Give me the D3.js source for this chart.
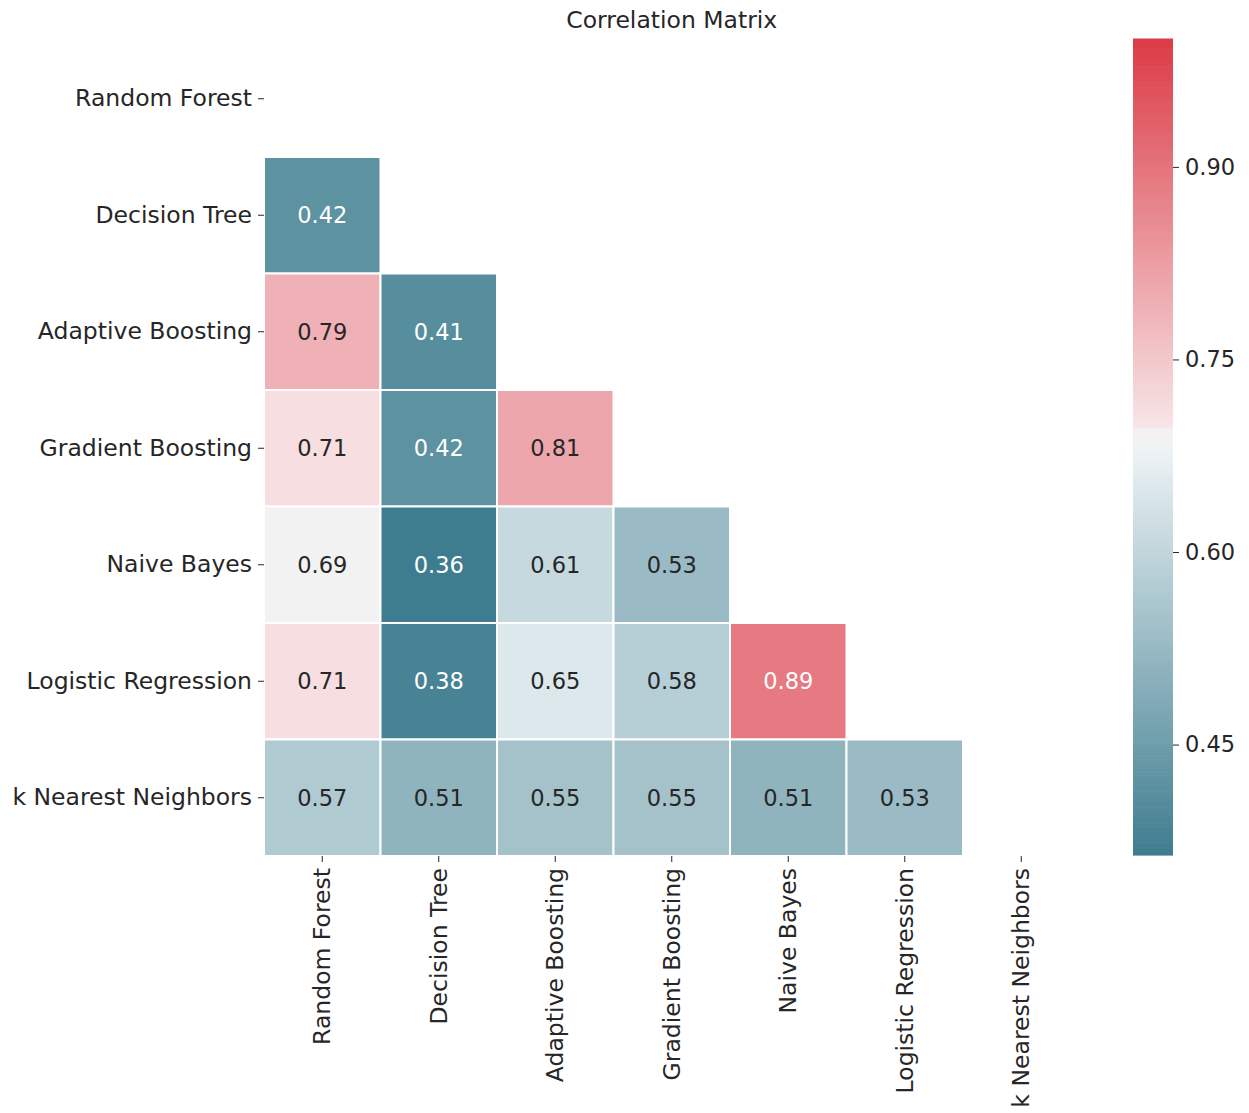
<!DOCTYPE html>
<html>
<head>
<meta charset="utf-8">
<script src="https://cdn.jsdelivr.net/npm/d3@7"></script>
<style>
  body { margin: 0; background: #fff; }
  svg text { font-family: "DejaVu Sans", sans-serif; fill: #262626; }
  .tick line { stroke: #262626; }
</style>
</head>
<body>
<div id="chart"></div>
<script>
// model names, same order on both axes
const models = ['Random Forest', 'Decision Tree', 'Adaptive Boosting', 'Gradient Boosting',
  'Naive Bayes', 'Logistic Regression', 'k Nearest Neighbors'];

// lower triangle of the correlation matrix, one row per model (diagonal and above are masked)
const rowDecisionTree = [0.42];
const rowAdaBoost = [0.79, 0.41];
const rowGradBoost = [0.71, 0.42, 0.81];
const rowNaiveBayes = [0.69, 0.36, 0.61, 0.53];
const rowLogReg = [0.71, 0.38, 0.65, 0.58, 0.89];
const rowKnn = [0.57, 0.51, 0.55, 0.55, 0.51, 0.53];
const lowerRows = [[], rowDecisionTree, rowAdaBoost, rowGradBoost, rowNaiveBayes, rowLogReg, rowKnn];

const colorbarTicks = [0.45, 0.60, 0.75, 0.90];
const colorDomain = [0.364, 1.0];

const WIDTH = 1249;
const HEIGHT = 1113;
const margins = { left: 264, top: 40.5, size: 815.5 };
const LABEL_SIZE = '23.5px';

const svg = d3.select('#chart').append('svg').attr('width', WIDTH).attr('height', HEIGHT);

/*
* color - diverging palette (teal -> light gray -> red), like seaborn diverging_palette(220, 10)
*/
const [vmin, vmax] = colorDomain;
const span = vmax - vmin;
const bandLo = vmin + 0.505 * span;
const bandHi = vmin + 0.525 * span;
const color = d3.scaleLinear()
  .domain([vmin, bandLo, bandLo + 1e-4, bandHi, bandHi + 1e-4, vmax])
  .range(['#3e7d8f', '#f0f5f7', '#f2f2f2', '#f2f2f2', '#f8e5e7', '#db3b46'])
  .interpolate(d3.interpolateRgb)
  .clamp(true);

const luminance = (c) => {
  const rgb = d3.rgb(c);
  const lin = (v) => { v /= 255; return v <= 0.03928 ? v / 12.92 : Math.pow((v + 0.055) / 1.055, 2.4); };
  return 0.2126 * lin(rgb.r) + 0.7152 * lin(rgb.g) + 0.0722 * lin(rgb.b);
};

const cells = [];
lowerRows.forEach((row, i) => {
  row.forEach((v, j) => cells.push({ row: models[i], col: models[j], value: v }));
});

const x = d3.scaleBand().domain(models).range([margins.left, margins.left + margins.size]);
const y = d3.scaleBand().domain(models).range([margins.top, margins.top + margins.size]);

// title
svg.append('text')
  .attr('x', margins.left + margins.size / 2)
  .attr('y', 28)
  .attr('text-anchor', 'middle')
  .style('font-size', LABEL_SIZE)
  .text('Correlation Matrix');

// cells
const g = svg.append('g');
g.selectAll('rect').data(cells).enter().append('rect')
  .attr('x', (d) => x(d.col))
  .attr('y', (d) => y(d.row))
  .attr('width', x.bandwidth())
  .attr('height', y.bandwidth())
  .attr('fill', (d) => color(d.value))
  .attr('stroke', '#fff')
  .attr('stroke-width', 2);

g.selectAll('text.annot').data(cells).enter().append('text')
  .attr('class', 'annot')
  .attr('x', (d) => x(d.col) + x.bandwidth() / 2)
  .attr('y', (d) => y(d.row) + y.bandwidth() / 2)
  .attr('text-anchor', 'middle')
  .attr('dominant-baseline', 'central')
  .style('font-size', '22.5px')
  .style('fill', (d) => (luminance(color(d.value)) > 0.408 ? '#262626' : '#ffffff'))
  .text((d) => d3.format('.2f')(d.value));

// axes
const yAxis = svg.append('g')
  .attr('transform', `translate(${margins.left},0)`)
  .call(d3.axisLeft(y).tickSize(6).tickPadding(6));
yAxis.select('.domain').remove();
yAxis.selectAll('text').style('font-size', LABEL_SIZE).attr('fill', '#262626');

const xAxis = svg.append('g')
  .attr('transform', `translate(0,${margins.top + margins.size})`)
  .call(d3.axisBottom(x).tickSize(6).tickPadding(6));
xAxis.select('.domain').remove();
xAxis.selectAll('text')
  .style('font-size', LABEL_SIZE)
  .attr('fill', '#262626')
  .attr('text-anchor', 'end')
  .attr('dy', null)
  .attr('dominant-baseline', 'central')
  .attr('transform', 'translate(0,12) rotate(-90)')
  .attr('x', 0)
  .attr('y', 0);

// colorbar
const cb = { x: 1133, width: 40, top: 38.5, bottom: 855 };
const cbScale = d3.scaleLinear().domain(colorDomain).range([cb.bottom, cb.top]);
const steps = d3.range(256).map((k) => vmin + (k + 0.5) * span / 256);
const cbG = svg.append('g');
cbG.selectAll('rect').data(steps).enter().append('rect')
  .attr('x', cb.x)
  .attr('width', cb.width)
  .attr('y', (d) => cbScale(d + span / 512))
  .attr('height', (cb.bottom - cb.top) / 256 + 0.6)
  .attr('fill', (d) => color(d));

const cbAxis = svg.append('g')
  .attr('transform', `translate(${cb.x + cb.width},0)`)
  .call(d3.axisRight(cbScale).tickValues(colorbarTicks).tickFormat(d3.format('.2f')).tickSize(6).tickPadding(6));
cbAxis.select('.domain').remove();
cbAxis.selectAll('text').style('font-size', '22.5px').attr('fill', '#262626');
</script>
</body>
</html>
